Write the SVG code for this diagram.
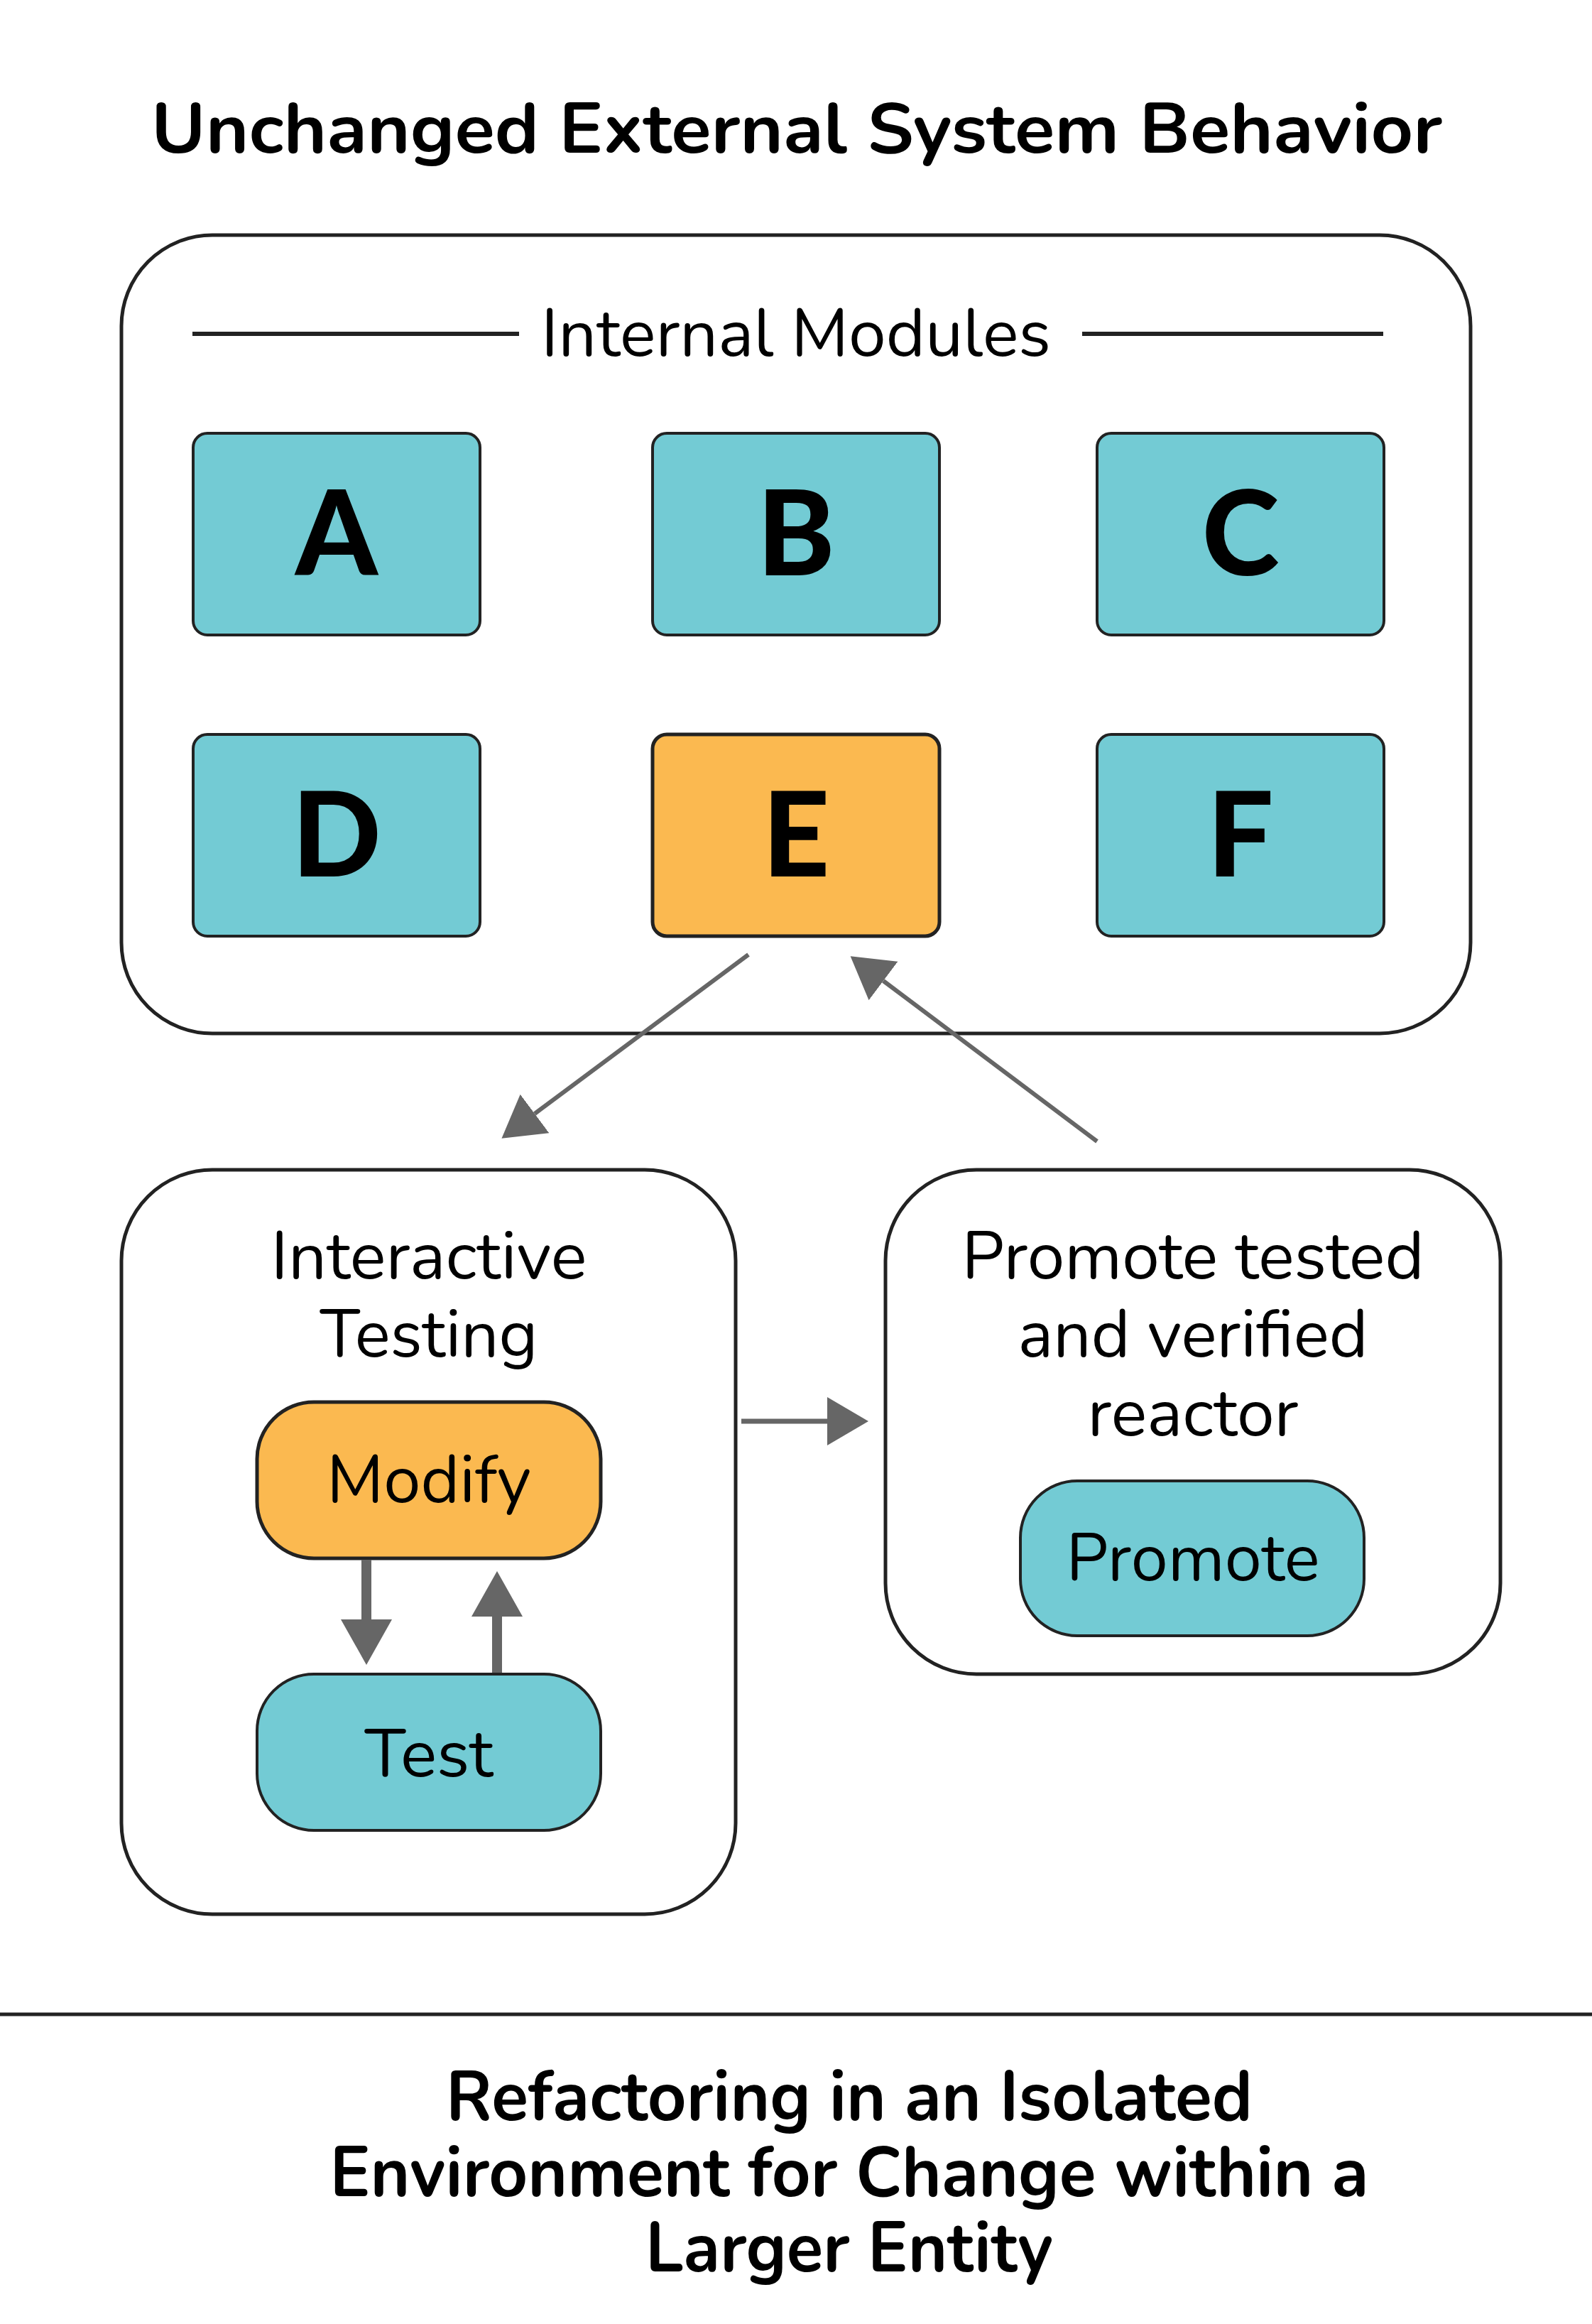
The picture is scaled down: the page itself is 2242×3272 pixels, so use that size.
<svg xmlns="http://www.w3.org/2000/svg" width="2242" height="3272" viewBox="0 0 2242 3272">
<defs>
<style>
.t{font-family:"Nunito","Open Sans","Noto Sans","Liberation Sans",sans-serif;fill:#000;text-anchor:middle}
.title{font-weight:700;font-size:100px}
.lbl{font-size:94px}
.big{font-weight:900;font-size:165px;font-family:"Lato","Open Sans","Liberation Sans",sans-serif}
.cont{fill:#fff;stroke:#222;stroke-width:5}
.teal{fill:#73CBD4;stroke:#222;stroke-width:4}
.orange{fill:#FBB950;stroke:#222;stroke-width:5}
.conn{stroke:#666;fill:none}
</style>
<marker id="ah" markerUnits="userSpaceOnUse" markerWidth="60" markerHeight="68" refX="0" refY="34" orient="auto">
<path d="M0,0 L58,34 L0,68 z" fill="#666"/>
</marker>
<marker id="ahb" markerUnits="userSpaceOnUse" markerWidth="64" markerHeight="72" refX="0" refY="36" orient="auto">
<path d="M0,0 L64,36 L0,72 z" fill="#666"/>
</marker>
</defs>
<rect width="2242" height="3272" fill="#fff"/>

<text class="t title" x="1122" y="215" textLength="1818" lengthAdjust="spacingAndGlyphs">Unchanged External System Behavior</text>

<g id="internal-modules">
<rect class="cont" x="171" y="331" width="1900" height="1124" rx="128"/>
<line x1="271" y1="470" x2="731" y2="470" stroke="#222" stroke-width="6"/>
<line x1="1524" y1="470" x2="1948" y2="470" stroke="#222" stroke-width="6"/>
<text class="t lbl" x="1121" y="501" textLength="718" lengthAdjust="spacingAndGlyphs">Internal Modules</text>
</g>

<g id="module-a"><rect class="teal" x="272" y="610" width="404" height="284" rx="20"/><text class="t big" x="474" y="810">A</text></g>
<g id="module-b"><rect class="teal" x="919" y="610" width="404" height="284" rx="20"/><text class="t big" x="1121" y="810">B</text></g>
<g id="module-c"><rect class="teal" x="1545" y="610" width="404" height="284" rx="20"/><text class="t big" x="1747" y="810">C</text></g>
<g id="module-d"><rect class="teal" x="272" y="1034" width="404" height="284" rx="20"/><text class="t big" x="474" y="1234">D</text></g>
<g id="module-e"><rect class="orange" x="919" y="1034" width="404" height="284" rx="20"/><text class="t big" x="1121" y="1234">E</text></g>
<g id="module-f"><rect class="teal" x="1545" y="1034" width="404" height="284" rx="20"/><text class="t big" x="1747" y="1234">F</text></g>

<g id="interactive-testing">
<rect class="cont" x="171" y="1647" width="865" height="1048" rx="128"/>
<text class="t lbl" x="604" y="1800" textLength="445" lengthAdjust="spacingAndGlyphs">Interactive</text>
<text class="t lbl" x="604" y="1910" textLength="307" lengthAdjust="spacingAndGlyphs">Testing</text>
</g>
<g id="modify"><rect class="orange" x="362" y="1974" width="484" height="220" rx="80"/><text class="t lbl" x="604" y="2115" textLength="288" lengthAdjust="spacingAndGlyphs">Modify</text></g>
<g id="test"><rect class="teal" x="362" y="2357" width="484" height="220" rx="80"/><text class="t lbl" x="604" y="2501" textLength="181" lengthAdjust="spacingAndGlyphs">Test</text></g>

<g id="promote-stage">
<rect class="cont" x="1247" y="1647" width="866" height="710" rx="128"/>
<text class="t lbl" x="1680" y="1800" textLength="651" lengthAdjust="spacingAndGlyphs">Promote tested</text>
<text class="t lbl" x="1680" y="1910" textLength="493" lengthAdjust="spacingAndGlyphs">and verified</text>
<text class="t lbl" x="1680" y="2021" textLength="297" lengthAdjust="spacingAndGlyphs">reactor</text>
</g>
<g id="promote"><rect class="teal" x="1437" y="2085" width="484" height="218" rx="80"/><text class="t lbl" x="1680" y="2225" textLength="357" lengthAdjust="spacingAndGlyphs">Promote</text></g>

<g id="connectors">
<line class="conn" x1="1054" y1="1344" x2="753" y2="1568" stroke-width="6" marker-end="url(#ah)"/>
<line class="conn" x1="1545" y1="1607" x2="1244" y2="1381" stroke-width="6" marker-end="url(#ah)"/>
<line class="conn" x1="1044" y1="2001" x2="1165" y2="2001" stroke-width="7" marker-end="url(#ah)"/>
<line class="conn" x1="516" y1="2196" x2="516" y2="2280" stroke-width="14" marker-end="url(#ahb)"/>
<line class="conn" x1="700" y1="2355" x2="700" y2="2276" stroke-width="14" marker-end="url(#ahb)"/>
</g>

<line x1="0" y1="2836" x2="2242" y2="2836" stroke="#222" stroke-width="5"/>

<g id="footer">
<text class="t title" x="1196" y="2985" textLength="1136" lengthAdjust="spacingAndGlyphs">Refactoring in an Isolated</text>
<text class="t title" x="1196" y="3092" textLength="1463" lengthAdjust="spacingAndGlyphs">Environment for Change within a</text>
<text class="t title" x="1196" y="3198" textLength="574" lengthAdjust="spacingAndGlyphs">Larger Entity</text>
</g>
</svg>
